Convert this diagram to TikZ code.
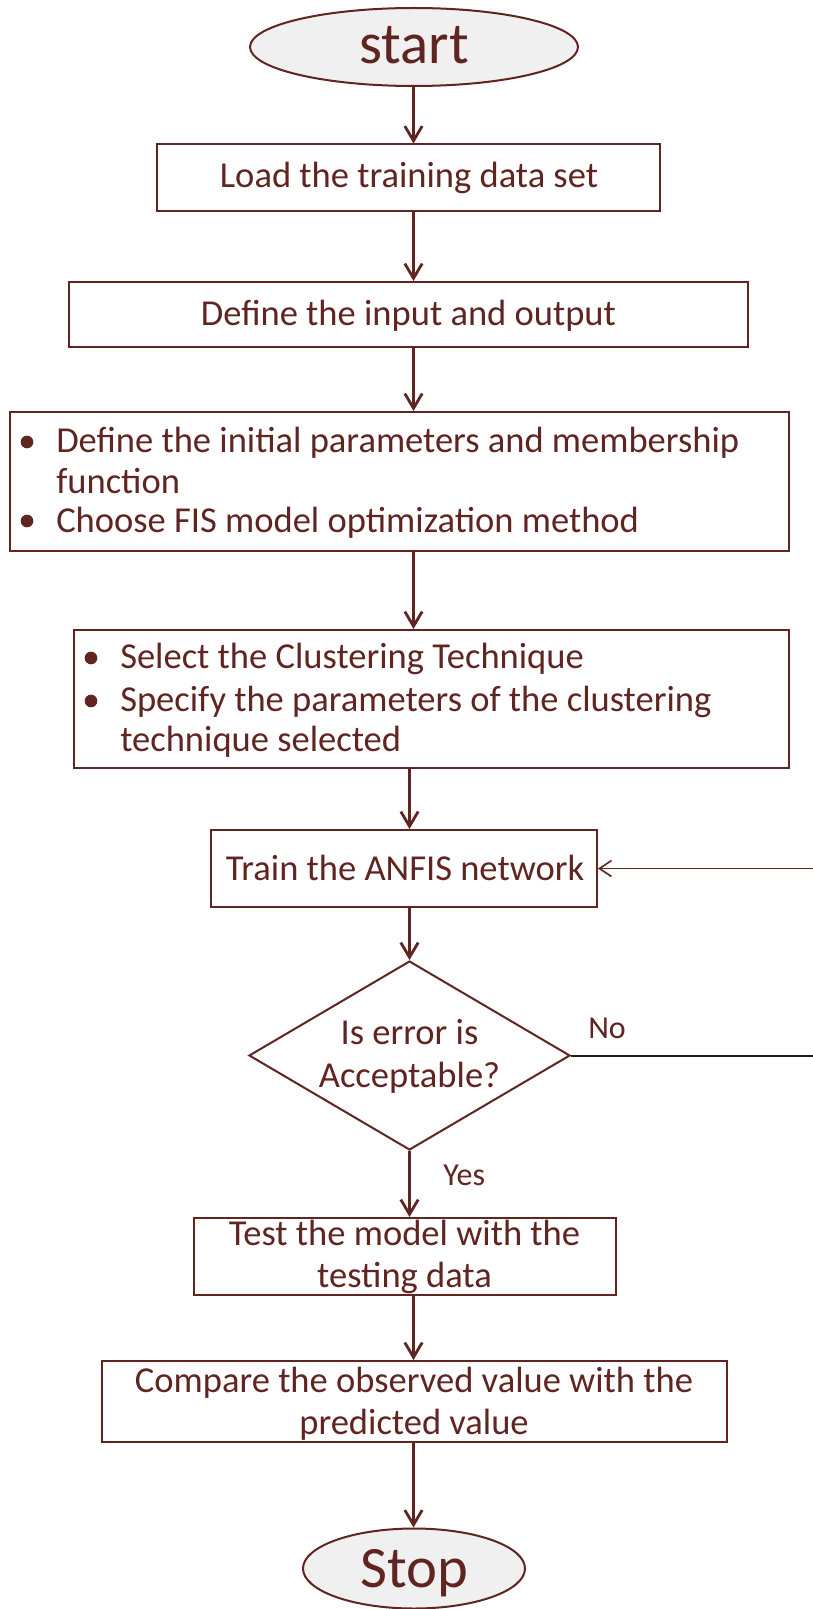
\documentclass[tikz,border=0pt]{standalone}
\usepackage{fontspec}
\setmainfont{Carlito}
\usetikzlibrary{shapes.geometric,arrows.meta}
\definecolor{ink}{RGB}{96,36,33}
\definecolor{oval}{RGB}{240,240,240}
\definecolor{loopline}{RGB}{30,30,30}
\begin{document}
\begin{tikzpicture}[x=0.75pt,y=-0.75pt,
  box/.style={draw=ink,line width=1.5pt,inner sep=0pt},
  term/.style={ellipse,draw=ink,fill=oval,line width=1.5pt,inner sep=0pt},
  txt/.style={text=ink,font=\fontsize{27.4}{32}\selectfont,anchor=base,inner sep=0pt},
  big/.style={text=ink,font=\fontsize{44}{50}\selectfont,anchor=base,inner sep=0pt},
  small/.style={text=ink,font=\fontsize{24}{28}\selectfont,anchor=base west,inner sep=0pt},
  bul/.style={circle,fill=ink,inner sep=0pt,minimum size=9.5pt},
  flow/.style={draw=ink,line width=2.1pt,-{Straight Barb[length=11pt,width=13pt]}},
  back/.style={draw=ink,line width=1.2pt,-{Straight Barb[length=9pt,width=12pt]}},
  noline/.style={draw=loopline,line width=1.5pt}]
\useasboundingbox (0,0) rectangle (813,1609);

% vertical axes of the connectors
\coordinate (axis) at (413.5,0);
\coordinate (axisB) at (409.5,0);

% terminals
\node[term,minimum width=246pt,minimum height=58.5pt] (start) at (414,47) {};
\node[big] (startT) at (414,64) {start};

% process boxes
\node[box,minimum width=377.25pt,minimum height=49.5pt] (load) at (408.5,177.5) {};
\node[txt] (loadT) at (409,188) {Load the training data set};

\node[box,minimum width=509.25pt,minimum height=48.75pt] (io) at (408.5,314.5) {};
\node[txt] (ioT) at (408.5,325) {Define the input and output};

\node[box,minimum width=584.25pt,minimum height=104.25pt] (init) at (399.5,481.5) {};
\node[bul] (initB1) at (27,442) {};
\node[bul] (initB2) at (27,521) {};
\node[txt,anchor=base west] (initL1) at (56,452) {Define the initial parameters and membership};
\node[txt,anchor=base west] (initL2) at (56,493) {function};
\node[txt,anchor=base west] (initL3) at (56,532) {Choose FIS model optimization method};

\node[box,minimum width=536.25pt,minimum height=103.5pt] (clus) at (431.5,699) {};
\node[bul] (clusB1) at (91,658) {};
\node[bul] (clusB2) at (91,701) {};
\node[txt,anchor=base west] (clusL1) at (120,668) {Select the Clustering Technique};
\node[txt,anchor=base west] (clusL2) at (120,711) {Specify the parameters of the clustering};
\node[txt,anchor=base west] (clusL3) at (120,751) {technique selected};

\node[box,minimum width=289.5pt,minimum height=57.75pt] (train) at (404,868.5) {};
\node[txt] (trainT) at (405,880) {Train the ANFIS network};

% decision
\node[diamond,draw=ink,line width=1.5pt,inner sep=0pt,minimum width=240.75pt,minimum height=141.75pt] (dec) at (409.5,1055.5) {};
\node[txt] (decL1) at (409.5,1044) {Is error is};
\node[txt] (decL2) at (409.5,1087) {Acceptable?};
\node[small] (noT) at (588,1038) {No};
\node[small] (yesT) at (443,1185) {Yes};

\node[box,minimum width=316.5pt,minimum height=57.75pt] (test) at (405,1256.5) {};
\node[txt] (testL1) at (404.5,1245) {Test the model with the};
\node[txt] (testL2) at (404.5,1287) {testing data};

\node[box,minimum width=468.75pt,minimum height=60.75pt] (comp) at (414.5,1401.5) {};
\node[txt] (compL1) at (414,1392) {Compare the observed value with the};
\node[txt] (compL2) at (414,1434) {predicted value};

\node[term,minimum width=166.5pt,minimum height=60pt] (stop) at (414,1568.5) {};
\node[big] (stopT) at (414,1587) {Stop};

% connectors
\draw[flow] (start.south -| axis) -- (load.north -| axis);
\draw[flow] (load.south -| axis) -- (io.north -| axis);
\draw[flow] (io.south -| axis) -- (init.north -| axis);
\draw[flow] (init.south -| axis) -- (clus.north -| axis);
\draw[flow] (clus.south -| axisB) -- (train.north -| axisB);
\draw[flow] (train.south -| dec.north) -- (dec.north);
\draw[flow] (dec.south) -- (test.north -| dec.south);
\draw[flow] (test.south -| axis) -- (comp.north -| axis);
\draw[flow] (comp.south -| axis) -- (stop.north -| axis);

% retry loop, running along the right margin
\coordinate (loopA) at (817,1055.5);
\coordinate (loopB) at (817,868.5);
\draw[noline] (dec.east) -- (loopA) -- (loopB);
\draw[back] (loopB) -- (train.east);
\end{tikzpicture}
\end{document}
